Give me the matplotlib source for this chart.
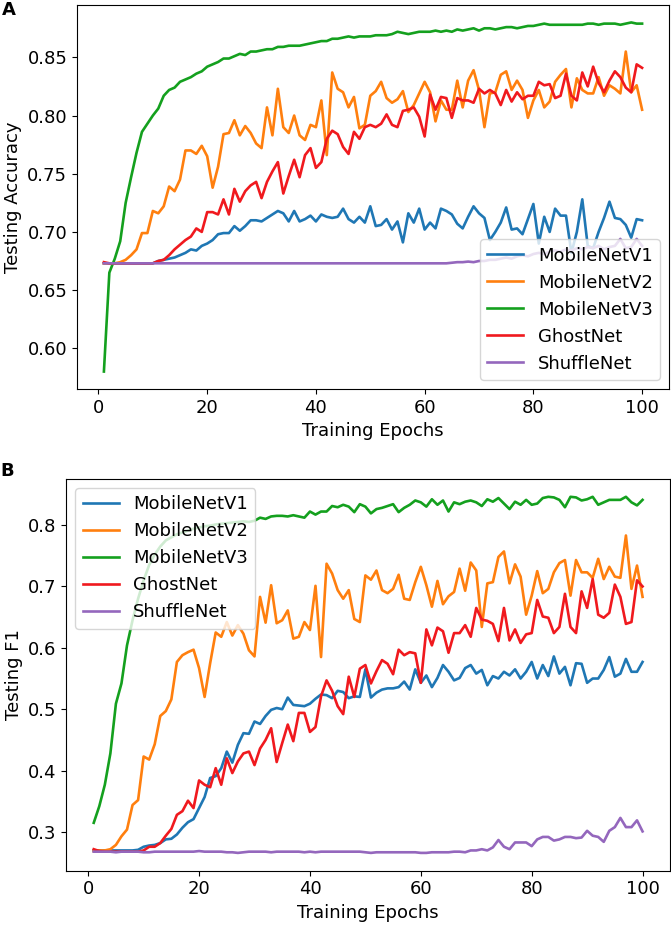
import matplotlib
matplotlib.use("Agg")
import matplotlib.pyplot as plt

epochs = list(range(1, 101))
labels = ["MobileNetV1", "MobileNetV2", "MobileNetV3", "GhostNet", "ShuffleNet"]
colors = ["#1f77b4", "#ff7f0e", "#14a01e", "#f0191e", "#9467bd"]

# ---------------- Panel A: Testing Accuracy ----------------
acc_v1 = [0.673, 0.673, 0.673, 0.673, 0.673, 0.673, 0.673, 0.673, 0.673, 0.673,
          0.675, 0.676, 0.677, 0.678, 0.680, 0.682, 0.685, 0.684, 0.688, 0.690,
          0.693, 0.698, 0.699, 0.699, 0.705, 0.701, 0.705, 0.710, 0.710, 0.709,
          0.712, 0.715, 0.718, 0.716, 0.709, 0.718, 0.709, 0.711, 0.714, 0.709,
          0.715, 0.713, 0.712, 0.713, 0.720, 0.711, 0.708, 0.713, 0.708, 0.722,
          0.705, 0.706, 0.711, 0.702, 0.709, 0.691, 0.716, 0.708, 0.720, 0.702,
          0.708, 0.703, 0.720, 0.718, 0.715, 0.707, 0.703, 0.713, 0.722, 0.716,
          0.712, 0.693, 0.700, 0.708, 0.721, 0.702, 0.703, 0.698, 0.711, 0.724,
          0.690, 0.713, 0.700, 0.720, 0.714, 0.714, 0.682, 0.700, 0.728, 0.688,
          0.686, 0.700, 0.712, 0.726, 0.712, 0.711, 0.706, 0.695, 0.711, 0.710]
acc_v2 = [0.673, 0.673, 0.673, 0.674, 0.676, 0.680, 0.685, 0.699, 0.699, 0.718,
          0.716, 0.722, 0.739, 0.735, 0.745, 0.770, 0.770, 0.767, 0.774, 0.765,
          0.738, 0.756, 0.784, 0.785, 0.796, 0.783, 0.791, 0.785, 0.776, 0.772,
          0.807, 0.783, 0.823, 0.790, 0.785, 0.800, 0.783, 0.779, 0.792, 0.790,
          0.813, 0.766, 0.837, 0.823, 0.820, 0.807, 0.816, 0.789, 0.792, 0.817,
          0.821, 0.829, 0.815, 0.811, 0.814, 0.821, 0.803, 0.809, 0.819, 0.829,
          0.820, 0.795, 0.813, 0.805, 0.805, 0.830, 0.807, 0.830, 0.839, 0.822,
          0.790, 0.819, 0.820, 0.835, 0.838, 0.822, 0.830, 0.822, 0.798, 0.813,
          0.822, 0.807, 0.812, 0.829, 0.835, 0.840, 0.807, 0.832, 0.822, 0.819,
          0.819, 0.833, 0.817, 0.826, 0.823, 0.819, 0.855, 0.820, 0.826, 0.805]
acc_v3 = [0.580, 0.665, 0.677, 0.692, 0.725, 0.747, 0.768, 0.786, 0.793, 0.800,
          0.806, 0.817, 0.822, 0.824, 0.829, 0.831, 0.833, 0.836, 0.838, 0.842,
          0.844, 0.846, 0.849, 0.849, 0.851, 0.853, 0.852, 0.855, 0.855, 0.856,
          0.857, 0.857, 0.859, 0.859, 0.860, 0.860, 0.860, 0.861, 0.862, 0.863,
          0.864, 0.864, 0.866, 0.866, 0.867, 0.868, 0.867, 0.868, 0.868, 0.868,
          0.869, 0.869, 0.869, 0.870, 0.872, 0.871, 0.870, 0.871, 0.872, 0.872,
          0.872, 0.873, 0.872, 0.873, 0.872, 0.874, 0.873, 0.874, 0.875, 0.873,
          0.875, 0.875, 0.874, 0.875, 0.876, 0.876, 0.875, 0.876, 0.877, 0.877,
          0.878, 0.879, 0.878, 0.878, 0.878, 0.878, 0.878, 0.878, 0.878, 0.879,
          0.879, 0.878, 0.879, 0.879, 0.879, 0.878, 0.879, 0.880, 0.879, 0.879]
acc_ghost = [0.674, 0.673, 0.673, 0.673, 0.673, 0.673, 0.673, 0.673, 0.673, 0.673,
             0.675, 0.676, 0.680, 0.685, 0.689, 0.693, 0.696, 0.703, 0.700, 0.717,
             0.717, 0.715, 0.728, 0.715, 0.737, 0.726, 0.735, 0.740, 0.743, 0.729,
             0.743, 0.752, 0.760, 0.733, 0.748, 0.762, 0.747, 0.766, 0.772, 0.755,
             0.760, 0.780, 0.787, 0.784, 0.773, 0.767, 0.786, 0.780, 0.790, 0.792,
             0.790, 0.793, 0.801, 0.792, 0.790, 0.804, 0.805, 0.807, 0.799, 0.782,
             0.818, 0.805, 0.816, 0.815, 0.798, 0.815, 0.813, 0.813, 0.811, 0.823,
             0.819, 0.822, 0.819, 0.809, 0.822, 0.812, 0.820, 0.814, 0.817, 0.817,
             0.829, 0.826, 0.827, 0.815, 0.817, 0.836, 0.817, 0.813, 0.837, 0.825,
             0.842, 0.828, 0.820, 0.830, 0.838, 0.833, 0.824, 0.820, 0.844, 0.841]
acc_shuffle = [0.673, 0.673, 0.673, 0.673, 0.673, 0.673, 0.673, 0.673, 0.673, 0.673,
               0.673, 0.673, 0.673, 0.673, 0.673, 0.673, 0.673, 0.673, 0.673, 0.673,
               0.673, 0.673, 0.673, 0.673, 0.673, 0.673, 0.673, 0.673, 0.673, 0.673,
               0.673, 0.673, 0.673, 0.673, 0.673, 0.673, 0.673, 0.673, 0.673, 0.673,
               0.673, 0.673, 0.673, 0.673, 0.673, 0.673, 0.673, 0.673, 0.673, 0.673,
               0.673, 0.673, 0.673, 0.673, 0.673, 0.673, 0.673, 0.673, 0.673, 0.673,
               0.673, 0.673, 0.673, 0.673, 0.6735, 0.674, 0.674, 0.6745, 0.674, 0.675,
               0.675, 0.676, 0.676, 0.677, 0.678, 0.677, 0.679, 0.680, 0.679, 0.681,
               0.682, 0.681, 0.683, 0.684, 0.683, 0.685, 0.684, 0.686, 0.685, 0.687,
               0.686, 0.688, 0.685, 0.687, 0.688, 0.694, 0.686, 0.687, 0.694, 0.688]

# ---------------- Panel B: Testing F1 ----------------
f1_v1 = [0.270, 0.270, 0.270, 0.270, 0.270, 0.270, 0.270, 0.270, 0.271, 0.276,
         0.278, 0.279, 0.282, 0.288, 0.289, 0.296, 0.307, 0.316, 0.321, 0.339,
         0.357, 0.388, 0.391, 0.404, 0.431, 0.413, 0.442, 0.461, 0.460, 0.480,
         0.476, 0.489, 0.499, 0.502, 0.500, 0.519, 0.507, 0.506, 0.505, 0.509,
         0.517, 0.524, 0.523, 0.518, 0.530, 0.528, 0.518, 0.521, 0.520, 0.565,
         0.519, 0.527, 0.532, 0.534, 0.534, 0.536, 0.545, 0.532, 0.565, 0.543,
         0.555, 0.536, 0.551, 0.572, 0.561, 0.547, 0.551, 0.567, 0.572, 0.558,
         0.564, 0.539, 0.554, 0.550, 0.561, 0.555, 0.565, 0.550, 0.561, 0.577,
         0.550, 0.572, 0.554, 0.586, 0.558, 0.569, 0.539, 0.575, 0.574, 0.543,
         0.550, 0.550, 0.564, 0.585, 0.553, 0.558, 0.582, 0.561, 0.561, 0.577]
f1_v2 = [0.269, 0.270, 0.270, 0.272, 0.279, 0.293, 0.304, 0.344, 0.352, 0.423,
         0.418, 0.443, 0.489, 0.497, 0.516, 0.577, 0.588, 0.593, 0.597, 0.567,
         0.520, 0.575, 0.625, 0.618, 0.642, 0.620, 0.637, 0.623, 0.596, 0.586,
         0.683, 0.641, 0.702, 0.640, 0.645, 0.661, 0.615, 0.618, 0.642, 0.629,
         0.701, 0.585, 0.737, 0.721, 0.694, 0.680, 0.694, 0.647, 0.642, 0.718,
         0.711, 0.726, 0.694, 0.689, 0.696, 0.719, 0.680, 0.678, 0.707, 0.732,
         0.702, 0.667, 0.709, 0.671, 0.684, 0.691, 0.729, 0.693, 0.739, 0.726,
         0.634, 0.705, 0.707, 0.748, 0.757, 0.705, 0.736, 0.716, 0.654, 0.685,
         0.725, 0.689, 0.696, 0.723, 0.738, 0.743, 0.685, 0.743, 0.723, 0.723,
         0.714, 0.745, 0.712, 0.732, 0.716, 0.714, 0.783, 0.696, 0.734, 0.683]
f1_v3 = [0.315, 0.342, 0.377, 0.428, 0.509, 0.542, 0.604, 0.645, 0.680, 0.710,
         0.735, 0.752, 0.765, 0.775, 0.780, 0.785, 0.788, 0.791, 0.794, 0.796,
         0.798, 0.799, 0.801, 0.802, 0.803, 0.804, 0.805, 0.806, 0.805, 0.807,
         0.812, 0.810, 0.814, 0.815, 0.815, 0.814, 0.816, 0.814, 0.812, 0.822,
         0.817, 0.822, 0.822, 0.831, 0.829, 0.833, 0.830, 0.821, 0.834, 0.830,
         0.819, 0.826, 0.828, 0.831, 0.834, 0.821, 0.828, 0.833, 0.840, 0.837,
         0.830, 0.842, 0.833, 0.840, 0.822, 0.837, 0.834, 0.838, 0.840, 0.837,
         0.831, 0.842, 0.838, 0.844, 0.835, 0.826, 0.838, 0.833, 0.841, 0.833,
         0.835, 0.844, 0.846, 0.845, 0.841, 0.829, 0.846, 0.845, 0.840, 0.842,
         0.846, 0.833, 0.837, 0.841, 0.841, 0.841, 0.846, 0.837, 0.832, 0.841]
f1_ghost = [0.272, 0.269, 0.268, 0.268, 0.268, 0.268, 0.268, 0.268, 0.268, 0.270,
            0.276, 0.276, 0.282, 0.294, 0.305, 0.328, 0.334, 0.351, 0.339, 0.384,
            0.377, 0.373, 0.404, 0.377, 0.420, 0.396, 0.415, 0.428, 0.431, 0.409,
            0.436, 0.450, 0.469, 0.414, 0.445, 0.475, 0.448, 0.494, 0.494, 0.463,
            0.471, 0.521, 0.547, 0.530, 0.505, 0.492, 0.553, 0.520, 0.566, 0.572,
            0.542, 0.562, 0.580, 0.574, 0.557, 0.597, 0.588, 0.593, 0.591, 0.543,
            0.630, 0.604, 0.633, 0.627, 0.592, 0.624, 0.624, 0.637, 0.618, 0.665,
            0.646, 0.644, 0.639, 0.611, 0.665, 0.612, 0.630, 0.608, 0.622, 0.624,
            0.678, 0.651, 0.649, 0.624, 0.634, 0.688, 0.634, 0.624, 0.692, 0.665,
            0.712, 0.654, 0.649, 0.657, 0.703, 0.683, 0.639, 0.642, 0.710, 0.700]
f1_shuffle = [0.268, 0.268, 0.268, 0.268, 0.267, 0.268, 0.268, 0.268, 0.268, 0.267,
              0.267, 0.268, 0.268, 0.268, 0.268, 0.268, 0.268, 0.268, 0.268, 0.269,
              0.268, 0.268, 0.268, 0.268, 0.267, 0.267, 0.266, 0.267, 0.268, 0.268,
              0.268, 0.268, 0.267, 0.268, 0.268, 0.268, 0.268, 0.268, 0.267, 0.268,
              0.267, 0.268, 0.268, 0.268, 0.268, 0.268, 0.268, 0.268, 0.268, 0.267,
              0.266, 0.267, 0.267, 0.267, 0.267, 0.267, 0.267, 0.267, 0.267, 0.266,
              0.266, 0.267, 0.267, 0.267, 0.267, 0.268, 0.268, 0.267, 0.270, 0.270,
              0.272, 0.270, 0.275, 0.287, 0.276, 0.272, 0.283, 0.283, 0.283, 0.277,
              0.288, 0.292, 0.292, 0.286, 0.288, 0.292, 0.292, 0.290, 0.291, 0.302,
              0.294, 0.292, 0.284, 0.302, 0.308, 0.323, 0.308, 0.308, 0.319, 0.301]

acc_series = [acc_v1, acc_v2, acc_v3, acc_ghost, acc_shuffle]
f1_series = [f1_v1, f1_v2, f1_v3, f1_ghost, f1_shuffle]

plt.rcParams["font.family"] = ["DejaVu Sans"]
plt.rcParams["font.size"] = 13

W, H = 671, 926
fig = plt.figure(figsize=(W / 100, H / 100), dpi=100)

axA = fig.add_axes([77 / W, 1 - 389 / H, 592 / W, 384 / H])
axB = fig.add_axes([66.3 / W, 1 - 870.7 / H, 603.7 / W, 391.7 / H])

for ax, series, ylab, loc in [(axA, acc_series, "Testing Accuracy", "lower right"),
                              (axB, f1_series, "Testing F1", "upper left")]:
    for ys, lab, col in zip(series, labels, colors):
        ax.plot(epochs, ys, color=col, lw=1.9, label=lab)
    ax.set_xlabel("Training Epochs", fontsize=13)
    ax.set_ylabel(ylab, fontsize=13)
    ax.tick_params(labelsize=13)
    ax.legend(loc=loc, fontsize=13)

axA.set_xticks([0, 20, 40, 60, 80, 100])
axA.set_yticks([0.60, 0.65, 0.70, 0.75, 0.80, 0.85])
axA.set_yticklabels(["0.60", "0.65", "0.70", "0.75", "0.80", "0.85"])
axB.set_xticks([0, 20, 40, 60, 80, 100])
axB.set_yticks([0.3, 0.4, 0.5, 0.6, 0.7, 0.8])

fig.text(2 / W, 1 - 1 / H, "A", fontsize=13, fontweight="bold", va="top", ha="left")
fig.text(0 / W, 1 - 462 / H, "B", fontsize=13, fontweight="bold", va="top", ha="left")

fig.savefig("out.png", dpi=100)
